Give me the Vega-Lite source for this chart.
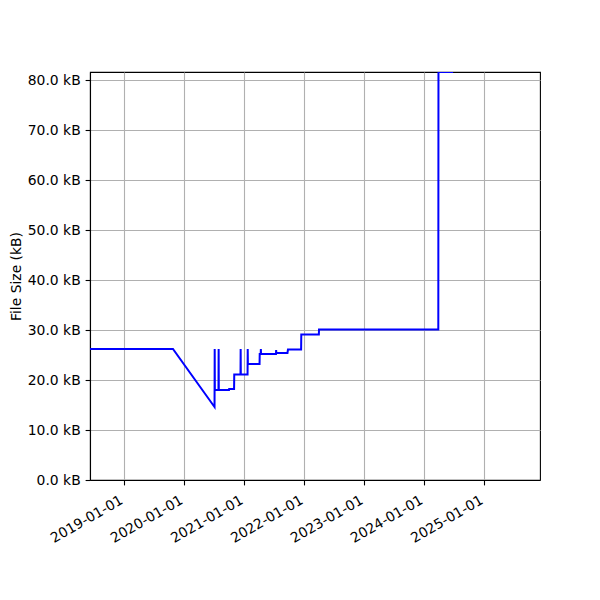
{
  "$schema": "https://vega.github.io/schema/vega-lite/v6.json",
  "autosize": {"type": "none"},
  "padding": {"left": 90, "top": 72, "right": 60, "bottom": 120},
  "width": 450,
  "height": 408,
  "background": "white",
  "config": {
    "font": "DejaVu Sans",
    "view": {"stroke": "black", "strokeWidth": 1.1},
    "axis": {
      "labelFont": "DejaVu Sans",
      "titleFont": "DejaVu Sans",
      "labelFontSize": 13.9,
      "titleFontSize": 13.9,
      "titleFontWeight": "normal",
      "labelColor": "black",
      "titleColor": "black",
      "tickColor": "black",
      "tickSize": 4.9,
      "tickWidth": 1.1,
      "domainColor": "black",
      "domainWidth": 1.1,
      "gridColor": "#b0b0b0",
      "gridWidth": 1.1,
      "gridOpacity": 1,
      "labelPadding": 4.9,
      "labelOverlap": false
    }
  },
  "data": {
    "values": [
      {"date": "2018-06-08", "size": 26.2},
      {"date": "2019-10-26", "size": 26.2},
      {"date": "2020-07-05", "size": 14.6},
      {"date": "2020-07-06", "size": 26.2},
      {"date": "2020-07-07", "size": 18.0},
      {"date": "2020-07-29", "size": 18.0},
      {"date": "2020-07-30", "size": 26.2},
      {"date": "2020-07-31", "size": 18.0},
      {"date": "2020-10-01", "size": 18.0},
      {"date": "2020-10-02", "size": 18.2},
      {"date": "2020-11-01", "size": 18.2},
      {"date": "2020-11-02", "size": 21.1},
      {"date": "2020-12-10", "size": 21.1},
      {"date": "2020-12-11", "size": 26.2},
      {"date": "2020-12-12", "size": 21.1},
      {"date": "2021-01-22", "size": 21.1},
      {"date": "2021-01-23", "size": 26.2},
      {"date": "2021-01-24", "size": 23.2},
      {"date": "2021-04-05", "size": 23.2},
      {"date": "2021-04-06", "size": 25.2},
      {"date": "2021-04-12", "size": 25.2},
      {"date": "2021-04-13", "size": 26.2},
      {"date": "2021-04-14", "size": 25.2},
      {"date": "2021-07-14", "size": 25.2},
      {"date": "2021-07-15", "size": 26.0},
      {"date": "2021-07-16", "size": 25.4},
      {"date": "2021-09-22", "size": 25.4},
      {"date": "2021-09-25", "size": 26.1},
      {"date": "2021-12-14", "size": 26.1},
      {"date": "2021-12-15", "size": 29.1},
      {"date": "2022-04-01", "size": 29.1},
      {"date": "2022-04-02", "size": 30.1},
      {"date": "2024-03-28", "size": 30.1},
      {"date": "2024-03-29", "size": 81.6},
      {"date": "2024-06-26", "size": 81.6}
    ]
  },
  "mark": {"type": "line", "color": "#0000ff", "strokeWidth": 2, "clip": true},
  "encoding": {
    "x": {
      "field": "date",
      "type": "temporal",
      "scale": {
        "type": "utc",
        "domain": [
          {"year": 2018, "month": 6, "date": 8, "utc": true},
          {"year": 2025, "month": 12, "date": 7, "utc": true}
        ]
      },
      "axis": {
        "title": null,
        "format": "%Y-%m-%d",
        "labelAngle": -30,
        "labelAlign": "right",
        "labelBaseline": "top",
        "labelOffset": -6,
        "labelPadding": 8,
        "grid": true,
        "values": [
          {"year": 2019, "month": 1, "date": 1, "utc": true},
          {"year": 2020, "month": 1, "date": 1, "utc": true},
          {"year": 2021, "month": 1, "date": 1, "utc": true},
          {"year": 2022, "month": 1, "date": 1, "utc": true},
          {"year": 2023, "month": 1, "date": 1, "utc": true},
          {"year": 2024, "month": 1, "date": 1, "utc": true},
          {"year": 2025, "month": 1, "date": 1, "utc": true}
        ]
      }
    },
    "y": {
      "field": "size",
      "type": "quantitative",
      "scale": {"domain": [0, 81.6], "nice": false, "zero": true},
      "axis": {
        "title": "File Size (kB)",
        "values": [0, 10, 20, 30, 40, 50, 60, 70, 80],
        "labelExpr": "format(datum.value, '.1f') + ' kB'",
        "grid": true,
        "titlePadding": 4
      }
    }
  }
}
